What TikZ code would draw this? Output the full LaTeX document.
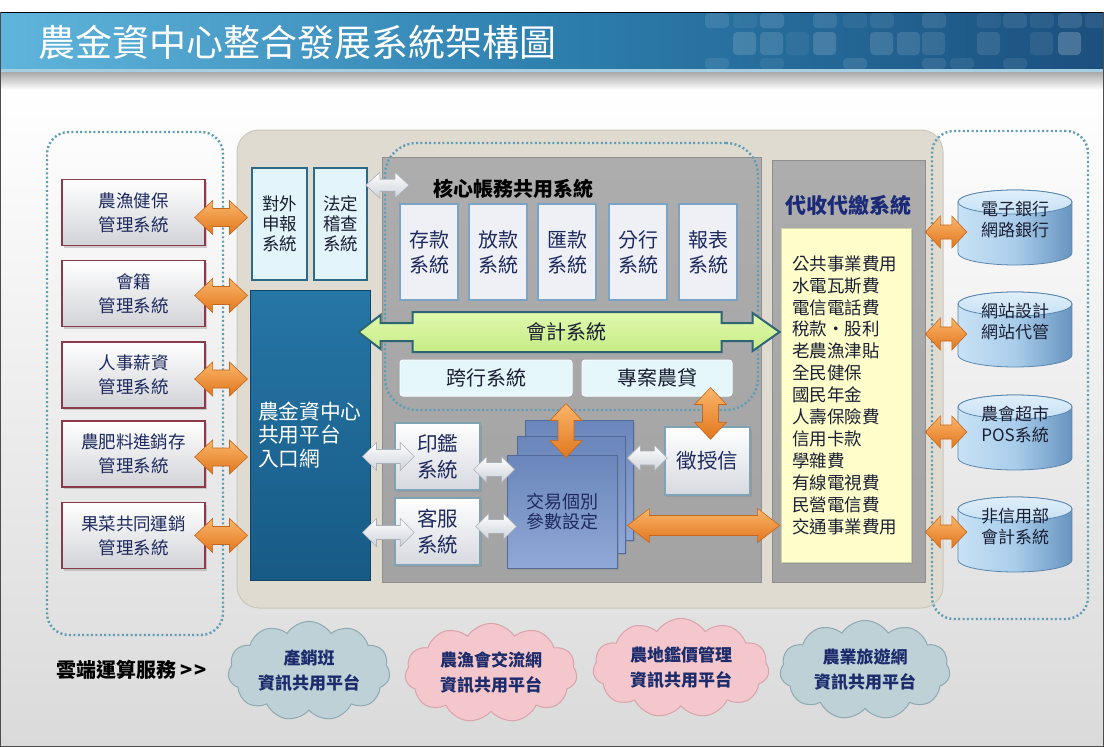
\documentclass[tikz,border=0pt]{standalone}
\usepackage{fontspec}
\setmainfont{Noto Sans CJK TC}
\usetikzlibrary{calc,shapes.symbols,shadows}
\definecolor{tnavy}{HTML}{1E2A5E}
\definecolor{tdark}{HTML}{1A1F33}
\definecolor{boxred}{HTML}{8A3A48}
\definecolor{lbbot}{HTML}{D2D3D8}
\definecolor{oline}{HTML}{C4661C}
\definecolor{otop}{HTML}{FAB66A}
\definecolor{obot}{HTML}{E2761E}
\definecolor{dotc}{HTML}{5F9DB6}
\definecolor{beige}{HTML}{DFDBD0}
\definecolor{beigeline}{HTML}{CBC7BA}
\definecolor{grayA}{HTML}{ADADAD}
\definecolor{grayB}{HTML}{A3A3A3}
\definecolor{grayline}{HTML}{8E8E8E}
\definecolor{lcyan}{HTML}{E3F5FA}
\definecolor{tealb}{HTML}{2B6A8A}
\definecolor{ptop}{HTML}{2676A6}
\definecolor{pbot}{HTML}{175A86}
\definecolor{pline}{HTML}{0F4468}
\definecolor{corefill}{HTML}{EEF0F5}
\definecolor{coreline}{HTML}{7BA3C6}
\definecolor{flatfill}{HTML}{E5F7FB}
\definecolor{wbot}{HTML}{D6D9DF}
\definecolor{wline}{HTML}{7FA2B5}
\definecolor{txtop}{HTML}{6A86BA}
\definecolor{txbot}{HTML}{90A8D7}
\definecolor{txline}{HTML}{52699A}
\definecolor{yel}{HTML}{FFFFCC}
\definecolor{yelline}{HTML}{D2D2A6}
\definecolor{collnavy}{HTML}{1B2A78}
\definecolor{cylL}{HTML}{C8E2F5}
\definecolor{cylM}{HTML}{A9CDEB}
\definecolor{cylR}{HTML}{6894C0}
\definecolor{cyltop}{HTML}{C6E1F5}
\definecolor{cylline}{HTML}{5A86AE}
\definecolor{cloudb}{HTML}{BDD1D7}
\definecolor{cloudbl}{HTML}{8FA9B3}
\definecolor{cloudp}{HTML}{F4C7CC}
\definecolor{cloudpl}{HTML}{D9A3AA}
\definecolor{cnavy}{HTML}{1B2B6B}
\definecolor{gtop}{HTML}{E0F9AE}
\definecolor{gbot}{HTML}{C6EC86}
\definecolor{gline}{HTML}{2E6474}
\definecolor{wwline}{HTML}{A9B0B8}
\definecolor{wwbot}{HTML}{CDD2D9}
\definecolor{tbL}{HTML}{60B5DC}
\definecolor{tbM}{HTML}{2D7FAE}
\definecolor{tbR}{HTML}{1B4F7E}
\definecolor{tbstrip}{HTML}{A6CFE3}
\definecolor{bgbot}{HTML}{DADADA}

% horizontal double block arrow: style, left point, right point, head length, head half width, shaft half width
\newcommand\harrow[6]{%
  \path[#1] let \p1=(#2), \p2=(#3) in
   (\x1,\y1) -- (\x1+#4,\y1+#5) -- (\x1+#4,\y1+#6) -- (\x2-#4,\y1+#6) -- (\x2-#4,\y1+#5)
   -- (\x2,\y1) -- (\x2-#4,\y1-#5) -- (\x2-#4,\y1-#6) -- (\x1+#4,\y1-#6) -- (\x1+#4,\y1-#5) -- cycle;}
% vertical double block arrow: style, top point, bottom point, head length, head half width, shaft half width
\newcommand\varrow[6]{%
  \path[#1] let \p1=(#2), \p2=(#3) in
   (\x1,\y1) -- (\x1+#5,\y1-#4) -- (\x1+#6,\y1-#4) -- (\x1+#6,\y2+#4) -- (\x1+#5,\y2+#4)
   -- (\x1,\y2) -- (\x1-#5,\y2+#4) -- (\x1-#6,\y2+#4) -- (\x1-#6,\y1-#4) -- (\x1-#5,\y1-#4) -- cycle;}
% cylinder drawn round a coordinate (text centre)
\newcommand\cylshape[1]{%
  \path[draw=cylline, line width=0.8pt, left color=cylL, right color=cylR, middle color=cylM]
   let \p1=(#1) in (\x1-57pt,\y1+18pt) -- (\x1-57pt,\y1-33pt)
   arc[start angle=180, end angle=360, x radius=57pt, y radius=12pt]
   -- (\x1+57pt,\y1+18pt)
   arc[start angle=0, end angle=180, x radius=57pt, y radius=12pt] -- cycle;
  \path[draw=cylline, line width=0.8pt, top color=white!45!cyltop, bottom color=cyltop]
   let \p1=(#1) in (\x1,\y1+18pt) ellipse[x radius=57pt, y radius=12pt];}

\begin{document}
\begin{tikzpicture}[x=1pt,y=-1pt,
  every node/.style={inner sep=0pt, align=center},
  shadowed/.style={drop shadow={shadow xshift=2pt, shadow yshift=-2pt, opacity=0.35}},
  dotbox/.style={draw=dotc, line width=2.4pt, dash pattern=on 2pt off 2.4pt, rounded corners=22pt},
  leftbox/.style={shadowed, draw=boxred, line width=1.3pt, top color=white, bottom color=lbbot,
     minimum width=143pt, minimum height=66pt, text=tnavy, font=\fontsize{17.5}{24}\selectfont},
  extbox/.style={fill=lcyan, draw=tealb, line width=1.6pt, minimum height=112pt,
     text=tdark, font=\fontsize{17.5}{20}\selectfont},
  graybox/.style={top color=grayA, bottom color=grayB, draw=grayline, line width=0.8pt},
  corebox/.style={fill=corefill, draw=coreline, line width=2pt, minimum width=58pt,
     minimum height=96pt, text=tnavy, font=\fontsize{20}{25}\selectfont},
  flatbox/.style={fill=flatfill, draw=white!70!flatfill, line width=1pt, rounded corners=3pt,
     minimum height=36pt, text=tdark, font=\fontsize{20}{24}\selectfont},
  wbox/.style={shadowed, top color=white, bottom color=wbot, draw=wline, line width=1.5pt,
     minimum width=85pt, text=tnavy, font=\fontsize{20.5}{26}\selectfont},
  txbox/.style={shadowed, top color=txtop, bottom color=txbot, draw=txline, line width=0.8pt},
  oarrow/.style={draw=oline, line width=0.6pt, top color=otop, bottom color=obot},
  warrow/.style={draw=wwline, line width=0.6pt, top color=white, bottom color=wwbot},
  garrow/.style={draw=gline, line width=2pt, top color=gtop, bottom color=gbot, line join=miter},
  cyltext/.style={minimum width=114pt, text=tdark, font=\fontsize{17}{21}\selectfont},
  cloudn/.style={cloud, cloud puffs=11, cloud puff arc=115, aspect=1.8, line width=1pt,
     text=cnavy, font=\bfseries\fontsize{17}{25}\selectfont},
  bluecloud/.style={cloudn, fill=cloudb, draw=cloudbl},
  pinkcloud/.style={cloudn, fill=cloudp, draw=cloudpl}]
\useasboundingbox (0,0) rectangle (1104,747);
% page background
\fill[white] (0,0) rectangle (1104,747);
\shade[top color=white, bottom color=bgbot] (0,88) rectangle (1104,747);
\shade[top color=black!35, bottom color=white] (0,71) rectangle (1104,90);
% title bar
\shade[left color=tbL, right color=tbR, middle color=tbM] (0,12) rectangle (1104,70);
\foreach \x/\o in {705/.10,733/.06,760/.12,813/.10,843/.05,870/.08,922/.10,977/.06,1003/.09,1030/.07,1058/.12,1085/.08}
  \fill[white, opacity=\o, rounded corners=4pt] (\x,13) rectangle ++(24,15);
\foreach \x/\o in {733/.14,760/.12,786/.05,813/.15,870/.13,897/.12,922/.10,977/.10,1030/.08,1058/.2}
  \fill[white, opacity=\o, rounded corners=4pt] (\x,32) rectangle ++(23,23);
\foreach \x/\o in {705/.08,760/.06,843/.10,922/.09,950/.07,1003/.08}
  \fill[white, opacity=\o, rounded corners=4pt] (\x,58) rectangle ++(24,11);
\fill[tbstrip] (0,69) rectangle (1104,72);
\draw[black, line width=1pt] (0.5,12) -- (1103.5,12);
\draw[black!70, line width=1pt] (0.5,12) -- (0.5,746.5) -- (1103.5,746.5) -- (1103.5,12);
\node[anchor=west, text=white, font=\fontsize{37}{40}\selectfont] (title) at (38,42) {農金資中心整合發展系統架構圖};

% central hub
\node[fill=beige, draw=beigeline, line width=1pt, rounded corners=22pt,
      minimum width=706pt, minimum height=478pt] (hub) at (590,369) {};
% groups
\node[dotbox, minimum width=176pt, minimum height=503pt] (grpL) at (135,383.5) {};
\node[dotbox, minimum width=156pt, minimum height=488pt] (grpR) at (1010,375) {};
\node[graybox, minimum width=379pt, minimum height=425pt] (coreArea) at (571.5,369.5) {};
\node[graybox, minimum width=153pt, minimum height=422pt] (collect) at (848.5,371) {};
\node[dotbox, rounded corners=32pt, minimum width=373pt, minimum height=267pt] (coreGrp) at (571.5,276.5) {};

% left systems
\node[leftbox] (lb1) at (133.5,212.5) {農漁健保\\管理系統};
\node[leftbox] (lb2) at (133.5,293.5) {會籍\\管理系統};
\node[leftbox] (lb3) at (133.5,375) {人事薪資\\管理系統};
\node[leftbox] (lb4) at (133.5,454) {農肥料進銷存\\管理系統};
\node[leftbox] (lb5) at (133.5,535.5) {果菜共同運銷\\管理系統};

% external reporting boxes
\node[extbox, minimum width=55pt] (ext1) at (279.5,224) {對外\\申報\\系統};
\node[extbox, minimum width=53pt] (ext2) at (340.5,224) {法定\\稽查\\系統};

% portal
\node[top color=ptop, bottom color=pbot, draw=pline, line width=1pt,
      minimum width=120pt, minimum height=290pt, text width=104pt, align=left,
      text=white, font=\fontsize{20.7}{23.5}\selectfont] (portal) at (310,435)
      {農金資中心\\共用平台\\入口網};

% core systems
\node[text=black, font=\bfseries\fontsize{20}{24}\selectfont] (coreTitle) at (513,189) {核心帳務共用系統};
\node[corebox] (c1) at (429,252) {存款\\系統};
\node[corebox] (c2) at (498,252) {放款\\系統};
\node[corebox] (c3) at (567,252) {匯款\\系統};
\node[corebox] (c4) at (638,252) {分行\\系統};
\node[corebox] (c5) at (708,252) {報表\\系統};
\node[flatbox, minimum width=172pt] (kh) at (486,378) {跨行系統};
\node[flatbox, minimum width=150pt] (zn) at (657,378) {專案農貸};

% collection system
\node[text=collnavy, font=\bfseries\fontsize{21}{24}\selectfont] (collTitle) at (848,205) {代收代繳系統};
\node[fill=yel, draw=yelline, line width=0.8pt, drop shadow={shadow xshift=2pt, shadow yshift=-2pt, opacity=0.3},
      minimum width=130pt, minimum height=334pt, text width=108pt, align=left,
      text=tdark, font=\fontsize{17.5}{21.9}\selectfont] (list) at (846,395)
      {公共事業費用\\水電瓦斯費\\電信電話費\\稅款・股利\\老農漁津貼\\全民健保\\國民年金\\人壽保險費\\信用卡款\\學雜費\\有線電視費\\民營電信費\\交通事業費用};

% lower service boxes
\node[wbox, minimum height=67pt] (seal) at (437.5,456.5) {印鑑\\系統};
\node[wbox, minimum height=67pt] (svc) at (437.5,531.5) {客服\\系統};
\node[wbox, minimum height=68pt] (credit) at (707.5,461) {徵授信};
\node[txbox, minimum width=108pt, minimum height=120pt] (tx3) at (579,480) {};
\node[txbox, minimum width=108pt, minimum height=117pt] (tx2) at (571,494.5) {};
\node[txbox, minimum width=110pt, minimum height=113pt, text=tnavy,
      font=\fontsize{18}{20.5}\selectfont] (tx) at (562,511.5) {交易個別\\參數設定};

% accounting arrow
\coordinate (acctc) at (566,332);
\path[garrow] let \p1=($(portal.east|-acctc)+(-12,0)$), \p2=($(list.west|-acctc)+(-1,0)$) in
  (\x1,\y1) -- (\x1+22pt,\y1+17pt) -- (\x1+22pt,\y1+9pt) -- (\x1+54pt,\y1+9pt) -- (\x1+54pt,\y1+20pt)
  -- (\x2-58pt,\y1+20pt) -- (\x2-58pt,\y1+9pt) -- (\x2-27pt,\y1+9pt) -- (\x2-27pt,\y1+19pt)
  -- (\x2,\y1) -- (\x2-27pt,\y1-19pt) -- (\x2-27pt,\y1-9pt) -- (\x2-58pt,\y1-9pt) -- (\x2-58pt,\y1-20pt)
  -- (\x1+54pt,\y1-20pt) -- (\x1+54pt,\y1-9pt) -- (\x1+22pt,\y1-9pt) -- (\x1+22pt,\y1-17pt) -- cycle;
\node[text=tdark, font=\fontsize{20}{24}\selectfont] (acct) at (acctc) {會計系統};

% white arrows
\harrow{warrow}{$(ext2.north east)+(-2,18)$}{$(c1.north west)+(10,-18)$}{14pt}{13pt}{6pt}
\harrow{warrow}{$(portal.east|-seal.east)+(-8,0)$}{$(seal.west)+(20,0)$}{14pt}{14pt}{7pt}
\harrow{warrow}{$(portal.east|-svc.east)+(-8,1)$}{$(svc.west)+(20,1)$}{14pt}{14pt}{7pt}
\harrow{warrow}{$(seal.east)+(-7,13)$}{$(tx.west|-seal.east)+(8,13)$}{13pt}{13pt}{7pt}
\harrow{warrow}{$(svc.east)+(-5,-5)$}{$(tx.west|-svc.east)+(10,-5)$}{13pt}{13pt}{7pt}
\harrow{warrow}{$(tx3.east|-credit.west)+(-6,-3)$}{$(credit.west)+(3,-3)$}{13pt}{13pt}{7pt}

% orange arrows
\harrow{oarrow}{$(lb1.east)+(-11,5)$}{$(portal.west|-lb1.east)+(-2,5)$}{18pt}{17pt}{9pt}
\harrow{oarrow}{$(lb2.east)+(-11,2)$}{$(portal.west|-lb2.east)+(-2,2)$}{18pt}{17pt}{9pt}
\harrow{oarrow}{$(lb3.east)+(-11,4)$}{$(portal.west|-lb3.east)+(-2,4)$}{18pt}{17pt}{9pt}
\harrow{oarrow}{$(lb4.east)+(-11,3)$}{$(portal.west|-lb4.east)+(-2,3)$}{18pt}{17pt}{9pt}
\harrow{oarrow}{$(lb5.east)+(-11,0)$}{$(portal.west|-lb5.east)+(-2,0)$}{18pt}{17pt}{9pt}
\harrow{oarrow}{$(tx3.east|-tx.east)+(-6,14)$}{$(list.west|-tx.east)+(-1,14)$}{22pt}{17pt}{10pt}
\varrow{oarrow}{$(tx.north|-kh.south)+(4,7)$}{$(tx.north)+(4,3)$}{17pt}{16pt}{8pt}
\varrow{oarrow}{$(credit.north|-zn.south)+(3,-9)$}{$(credit.north)+(3,13)$}{17pt}{16pt}{8pt}

% database cylinders
\coordinate (cyc1) at (1015,220);
\coordinate (cyc2) at (1015,322);
\coordinate (cyc3) at (1015,425);
\coordinate (cyc4) at (1015,527);
\cylshape{cyc1}\cylshape{cyc2}\cylshape{cyc3}\cylshape{cyc4}
\node[cyltext] (cy1) at (cyc1) {電子銀行\\網路銀行};
\node[cyltext] (cy2) at (cyc2) {網站設計\\網站代管};
\node[cyltext] (cy3) at (cyc3) {農會超市\\POS系統};
\node[cyltext] (cy4) at (cyc4) {非信用部\\會計系統};
\harrow{oarrow}{$(collect.east|-cy1.west)+(0,12)$}{$(cy1.west)+(9,12)$}{15pt}{16pt}{7pt}
\harrow{oarrow}{$(collect.east|-cy2.west)+(0,12)$}{$(cy2.west)+(9,12)$}{15pt}{16pt}{7pt}
\harrow{oarrow}{$(collect.east|-cy3.west)+(0,7)$}{$(cy3.west)+(9,7)$}{15pt}{16pt}{7pt}
\harrow{oarrow}{$(collect.east|-cy4.west)+(0,5)$}{$(cy4.west)+(9,5)$}{15pt}{16pt}{7pt}

% cloud services
\node[anchor=west, text=black, font=\bfseries\fontsize{20}{24}\selectfont] (cloudLbl) at (56,670) {雲端運算服務 >\kern2pt>};
\node[bluecloud, minimum width=162pt, minimum height=92pt] (cl1) at (309,671) {產銷班\\資訊共用平台};
\node[pinkcloud, minimum width=172pt, minimum height=96pt] (cl2) at (491,673) {農漁會交流網\\資訊共用平台};
\node[pinkcloud, minimum width=176pt, minimum height=98pt] (cl3) at (681,668) {農地鑑價管理\\資訊共用平台};
\node[bluecloud, minimum width=170pt, minimum height=98pt] (cl4) at (865,670) {農業旅遊網\\資訊共用平台};
\end{tikzpicture}
\end{document}
